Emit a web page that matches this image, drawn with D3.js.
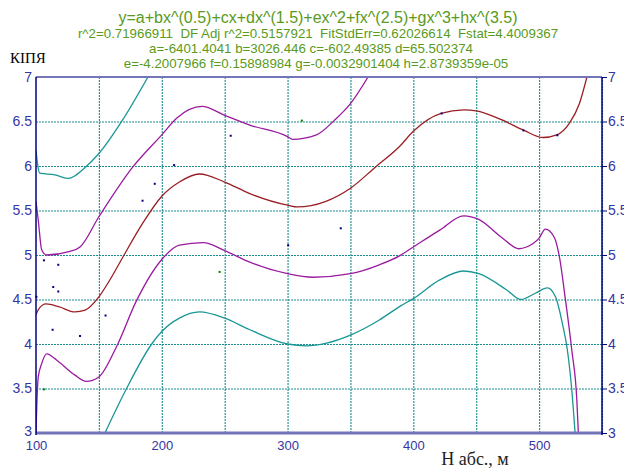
<!DOCTYPE html>
<html>
<head>
<meta charset="utf-8">
<script src="https://cdn.jsdelivr.net/npm/d3@7"></script>
<style>
body{margin:0;background:#fff;}
</style>
</head>
<body>
<div id="grafica"></div>
<script>
// Textos de la cabecera
var titulo="y=a+bx^(0.5)+cx+dx^(1.5)+ex^2+fx^(2.5)+gx^3+hx^(3.5)"
var lineas=["r^2=0.71966911\u00a0\u00a0DF Adj r^2=0.5157921\u00a0\u00a0FitStdErr=0.62026614\u00a0\u00a0Fstat=4.4009367",
	"a=-6401.4041 b=3026.446 c=-602.49385 d=65.502374",
	"e=-4.2007966 f=0.15898984 g=-0.0032901404 h=2.8739359e-05"]
var etiquetaY="КІПЯ"
var etiquetaX="H абс., м"

// Ticks
var ticksX=[100,200,300,400,500]
var gridX=[150,200,250,300,350,400,450,500,550]
var ticksY=[3,3.5,4,4.5,5,5.5,6,6.5,7]

// Puntos medidos
var puntos=[[100.3,4.53],[106.3,4.94],[117.7,4.89],[113.7,4.64],[117.7,4.59],[113.2,4.16],[135,4.09],
	[155.3,4.32],[184.7,5.61],[194.4,5.80],[209.8,6.01],[254.8,6.34],[300.5,5.11],[342.3,5.30],
	[422.5,6.59],[487.5,6.40],[514.5,6.345]]
var puntosVerdes=[[106.3,3.49],[246,4.81],[311.4,6.51]]

// Curva ajustada
var ajuste=[[100,4.33],[102,4.39],[108,4.45],[118,4.42],[131,4.36],[139,4.38],[150,4.53],[160,4.75],
	[170,5.0],[185,5.36],[200,5.66],[214,5.82],[230,5.91],[250,5.82],[270,5.69],[300,5.56],[308,5.54],
	[330,5.60],[350,5.75],[370,5.99],[389,6.22],[400,6.39],[422,6.59],[440,6.63],[450,6.62],[470,6.52],
	[488,6.40],[503,6.32],[514,6.35],[524,6.48],[532,6.70],[538,7.0]]
// Intervalo de confianza
var confSup=[[100,5.60],[101.8,5.39],[104.5,5.06],[108.5,5.0],[127,5.04],[135,5.09],[150,5.43],[177,5.99],
	[200,6.35],[212,6.54],[232,6.67],[250,6.57],[270,6.46],[300,6.33],[304,6.30],[323,6.35],[337,6.51],
	[350,6.70],[364,7.0]]
var confInf=[[100,3.0],[100.5,3.25],[101.8,3.63],[104.5,3.78],[108.5,3.89],[118,3.80],[131,3.65],[140,3.58],
	[150,3.63],[164,3.97],[180,4.49],[200,4.95],[214,5.11],[233,5.14],[250,5.05],[270,4.92],[300,4.79],
	[320,4.75],[350,4.79],[373,4.89],[389,4.99],[400,5.09],[421,5.28],[440,5.44],[452,5.40],[470,5.20],
	[484,5.07],[490,5.09],[500,5.19],[505,5.29],[512,5.20],[516,4.99],[521,4.49],[526,3.93],[530,3.37],[531.2,3.0]]
// Intervalo de prediccion
var predSup=[[100,6.18],[101,6.05],[103,5.92],[115,5.90],[126,5.86],[131,5.89],[138,5.97],[150,6.14],
	[169,6.52],[189,7.0]]
var predInf=[[154.8,3.0],[172,3.50],[192,4.0],[200,4.14],[214,4.29],[230,4.36],[250,4.29],[270,4.16],
	[300,4.0],[315,3.98],[331,4.01],[350,4.10],[373,4.27],[389,4.42],[400,4.51],[421,4.72],[440,4.82],
	[452,4.79],[474,4.61],[485.5,4.50],[497,4.57],[506.6,4.63],[513,4.53],[518.5,4.23],[522.5,3.93],
	[526,3.48],[528.6,3.0]]

grafica()
function grafica(){
	var W=624,H=468
	var margin={top:77,bottom:35,left:36,right:22}
	var ancho=W-margin.left-margin.right
	var alto=H-margin.top-margin.bottom

	var svg=d3.select("#grafica").append("svg")
		.attr("width",W).attr("height",H)
		.style("font-family","Arial, 'Liberation Sans', sans-serif")

	var verde="#5a9a20"
	var azul="#3535a5"

	// Cabecera
	svg.append("text").attr("x",318).attr("y",23).attr("text-anchor","middle")
		.attr("fill",verde).style("font-size","16px").text(titulo)
	var xLineas=[318,311,316]
	var yLineas=[38,53,68]
	lineas.forEach(function(t,i){
		svg.append("text").attr("x",xLineas[i]).attr("y",yLineas[i]).attr("text-anchor","middle")
			.attr("fill",verde).style("font-size","13.3px").text(t)
	})
	svg.append("text").attr("x",10).attr("y",63)
		.style("font-family","'Liberation Serif','Times New Roman',serif").style("font-size","15px")
		.attr("fill","#000").text(etiquetaY)
	svg.append("text").attr("x",475).attr("y",465).attr("text-anchor","middle")
		.style("font-family","'Liberation Serif','Times New Roman',serif").style("font-size","18px")
		.attr("fill","#222").text(etiquetaX)

	var g=svg.append("g").attr("transform","translate("+margin.left+","+margin.top+")")

	var escalaX=d3.scaleLinear().domain([100,550]).range([0,ancho])
	var escalaY=d3.scaleLinear().domain([3,7]).range([alto,0])

	// Rejilla
	g.append("g").attr("class","grid")
		.attr("transform","translate(0,"+alto+")")
		.call(d3.axisBottom(escalaX).tickValues(gridX).tickSize(-alto).tickFormat(""))
	g.append("g").attr("class","grid")
		.call(d3.axisLeft(escalaY).tickValues(ticksY.slice(1,-1)).tickSize(-ancho).tickFormat(""))
	g.selectAll(".grid path").remove()
	g.selectAll(".grid line").attr("stroke","#1a8c8c").attr("stroke-dasharray","2,1").attr("stroke-width",1.1)

	// Curvas
	svg.append("defs").append("clipPath").attr("id","recorte")
		.append("rect").attr("width",ancho).attr("height",alto)
	var linea=d3.line().x(d=>escalaX(d[0])).y(d=>escalaY(d[1])).curve(d3.curveMonotoneX)
	var curvas=g.append("g").attr("clip-path","url(#recorte)")
	var series=[[predSup,"#1a9696"],[predInf,"#1a9696"],[confSup,"#9a1aa0"],[confInf,"#9a1aa0"],[ajuste,"#9a1f24"]]
	series.forEach(function(s){
		curvas.append("path").datum(s[0]).attr("d",linea)
			.attr("fill","none").attr("stroke",s[1]).attr("stroke-width",1.3)
	})

	// Puntos
	g.selectAll(".pt").data(puntos).enter().append("rect")
		.attr("x",d=>escalaX(d[0])-1).attr("y",d=>escalaY(d[1])-1)
		.attr("width",2).attr("height",2).attr("fill","#000080")
	g.selectAll(".ptv").data(puntosVerdes).enter().append("rect")
		.attr("x",d=>escalaX(d[0])-1).attr("y",d=>escalaY(d[1])-1)
		.attr("width",2).attr("height",2).attr("fill","#008000")

	// Marco
	g.append("line").attr("x1",0).attr("x2",ancho).attr("y1",0).attr("y2",0)
		.attr("stroke","#7474b8").attr("stroke-width",2)
	g.append("line").attr("x1",0).attr("x2",ancho).attr("y1",alto).attr("y2",alto)
		.attr("stroke","#7474b8").attr("stroke-width",3)

	// Ejes
	var ejeX=g.append("g").attr("transform","translate(0,"+alto+")")
		.call(d3.axisBottom(escalaX).tickValues(ticksX).tickSize(0).tickPadding(8))
	var ejeY=g.append("g")
		.call(d3.axisLeft(escalaY).tickValues(ticksY).tickSize(0).tickPadding(4).tickFormat(d3.format("")))
	var ejeY2=g.append("g").attr("transform","translate("+ancho+",0)")
		.call(d3.axisRight(escalaY).tickValues(ticksY).tickSize(5).tickPadding(1).tickFormat(d3.format("")))
	ejeX.select("path").remove()
	ejeY.select("path").attr("stroke","#000080").attr("stroke-width",1.5).attr("d","M0,0V"+(alto+2))
	ejeY2.select("path").attr("stroke","#000080").attr("stroke-width",1.5).attr("d","M0,0V"+(alto+2))
	ejeY2.selectAll("line").attr("stroke","#000080")
	;[ejeX,ejeY,ejeY2].forEach(function(e){
		e.selectAll("text").attr("fill",azul).style("font-size","14px")
			.style("font-family","Arial, 'Liberation Sans', sans-serif")
	})
	ejeX.selectAll("text").style("font-size","13px")
	// El 3 de la izquierda sube un poco para no pisar el 100
	ejeY.selectAll(".tick").filter(d=>d==3).select("text").attr("dy","0.2em")
}
</script>
</body>
</html>
